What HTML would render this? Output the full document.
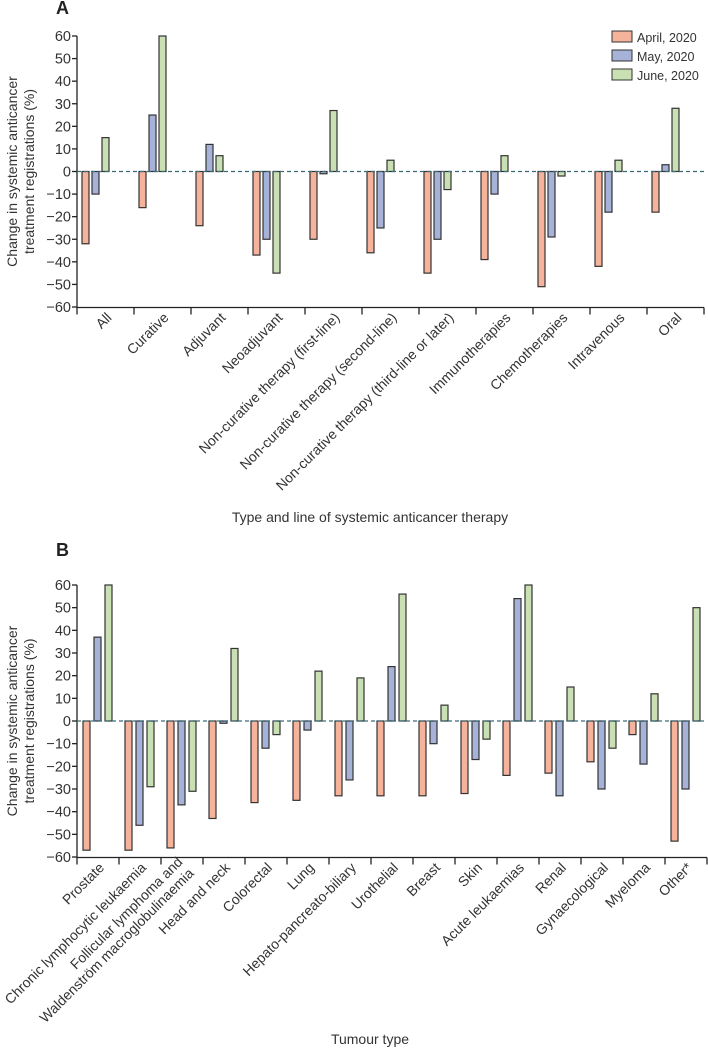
<!DOCTYPE html>
<html><head><meta charset="utf-8"><style>
body{margin:0;background:#fff;}
svg{display:block;font-family:"Liberation Sans",sans-serif;}
</style></head><body>
<svg id="svg" width="708" height="1050"></svg>
<script>
const seriesNames = ["April, 2020","May, 2020","June, 2020"];
const colors = ["#f5b39c","#a7b2d9","#c9e0b2"];
const catsA = ["All","Curative","Adjuvant","Neoadjuvant","Non-curative therapy (first-line)","Non-curative therapy (second-line)","Non-curative therapy (third-line or later)","Immunotherapies","Chemotherapies","Intravenous","Oral"];
const aprilA = [-32,-16,-24,-37,-30,-36,-45,-39,-51,-42,-18];
const mayA = [-10,25,12,-30,-1,-25,-30,-10,-29,-18,3];
const juneA = [15,60,7,-45,27,5,-8,7,-2,5,28];
const catsB = ["Prostate","Chronic lymphocytic leukaemia","Follicular lymphoma and|Waldenström macroglobulinaemia","Head and neck","Colorectal","Lung","Hepato-pancreato-biliary","Urothelial","Breast","Skin","Acute leukaemias","Renal","Gynaecological","Myeloma","Other*"];
const aprilB = [-57,-57,-56,-43,-36,-35,-33,-33,-33,-32,-24,-23,-18,-6,-53];
const mayB = [37,-46,-37,-1,-12,-4,-26,24,-10,-17,54,-33,-30,-19,-30];
const juneB = [60,-29,-31,32,-6,22,19,56,7,-8,60,15,-12,12,50];
const yTicks = [60,50,40,30,20,10,0,-10,-20,-30,-40,-50,-60];

const NS="http://www.w3.org/2000/svg";
const svg=document.getElementById('svg');
function mk(tag,attrs,parent){const e=document.createElementNS(NS,tag);for(const k in attrs)e.setAttribute(k,attrs[k]);(parent||svg).appendChild(e);return e;}

function panel(p){
  const g=mk('g',{});
  
  
  const y=v=>p.y0+(60-v)*(p.y1-p.y0)/120;
  const n=p.cats.length, gw=p.gw;
  const x0=77;
  const L=mk('text',{x:56,y:p.letterY,'font-size':18,'font-weight':'bold',fill:'#222'},g);L.textContent=p.letter;
  
  
  mk('line',{x1:x0,y1:y(60),x2:x0,y2:y(-60)+0.5,stroke:'#222','stroke-width':1.3},g);
  yTicks.forEach(t=>{
    mk('line',{x1:x0-5,y1:y(t),x2:x0,y2:y(t),stroke:'#222','stroke-width':1.3},g);
    const tx=mk('text',{x:x0-6,y:y(t)+5,'font-size':14.5,'text-anchor':'end',fill:'#333'},g);
    tx.textContent=t<0?'−'+(-t):t;
    
    
  });
  const yt=mk('text',{transform:`translate(17,${(p.y0+p.y1)/2}) rotate(-90)`,'font-size':14,'text-anchor':'middle',fill:'#333'},g);
  
  
  const s1=mk('tspan',{x:0,dy:0},yt);s1.textContent='Change in systemic anticancer';
  const s2=mk('tspan',{x:0,dy:17},yt);s2.textContent='treatment registrations (%)';
  const ax=y(-60)+0.5;
  mk('line',{x1:x0,y1:ax,x2:x0+n*gw,y2:ax,stroke:'#222','stroke-width':1.3},g);
  for(let i=0;i<=n;i++) mk('line',{x1:x0+i*gw,y1:ax,x2:x0+i*gw,y2:ax+7,stroke:'#222','stroke-width':1.3},g);
  const vals=[p.a,p.m,p.j];
  for(let i=0;i<n;i++){
    for(let s=0;s<3;s++){
      const v=vals[s][i];
      const bx=x0+i*gw+p.off+s*p.sp;
      const r=mk('rect',{x:bx,y:Math.min(y(v),y(0)),width:p.bw,height:Math.max(Math.abs(y(v)-y(0)),1),fill:colors[s],stroke:'#333','stroke-width':1.2},g);
      
      
    }
    const cx=x0+i*gw+gw/2+7, cy=ax+11;
    const parts=p.cats[i].split('|');
    const lt=mk('text',{transform:`translate(${cx},${cy}) rotate(-45)`,'font-size':14,'text-anchor':'end',fill:'#333'},g);
    
    
    parts.forEach((pt,k)=>{const ts=mk('tspan',{x:0,dy:k===0?(parts.length>1?-8:0):16},lt);ts.textContent=pt;});
  }
  mk('line',{x1:x0,y1:y(0),x2:x0+n*gw,y2:y(0),stroke:'#3a6c7a','stroke-width':1.3,'stroke-dasharray':'4,3'},g);
  const xt=mk('text',{x:370,y:p.xtY,'font-size':14,'text-anchor':'middle',fill:'#333'},g);
  xt.textContent=p.xtitle;
  
  
}
panel({name:'panel-a',letter:'A',letterY:14,y0:36,y1:307,cats:catsA,a:aprilA,m:mayA,j:juneA,gw:57,off:5,sp:10,bw:7,xtitle:'Type and line of systemic anticancer therapy',xtY:522});
panel({name:'panel-b',letter:'B',letterY:556,y0:585,y1:857,cats:catsB,a:aprilB,m:mayB,j:juneB,gw:42,off:6,sp:11,bw:7,xtitle:'Tumour type',xtY:1044});
const lg=mk('g',{});


seriesNames.forEach((nm,i)=>{
  const yy=31+i*19;
  mk('rect',{x:612,y:yy,width:20,height:11,fill:colors[i],stroke:'#333','stroke-width':1},lg);
  const t=mk('text',{x:637,y:yy+11,'font-size':12.5,fill:'#333'},lg);t.textContent=nm;
  
  
});
</script>
</body></html>
